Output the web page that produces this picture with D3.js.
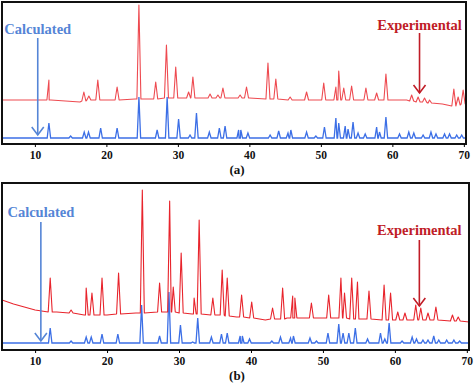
<!DOCTYPE html>
<html>
<head>
<meta charset="utf-8">
<script src="https://cdn.jsdelivr.net/npm/d3@7/dist/d3.min.js"></script>
<style>
  body { margin: 0; background: #fff; }
  svg text { font-family: "Liberation Serif", "Times New Roman", serif; font-weight: bold; }
</style>
</head>
<body>
<svg id="chart" width="474" height="383"></svg>
<script>
'use strict'

// two-theta ticks shared by both panels
const tickValues = [10, 20, 30, 40, 50, 60, 70]

// panel (a): experimental background [2theta, intensity]
const expBgA = [[5.4, 44], [8, 44], [12, 44], [16.3, 42], [16.6, 44], [20, 44], [24, 45], [30, 46],
  [40, 46], [46, 44], [50, 44], [55, 44], [62, 44], [65, 41], [67, 40], [68.3, 38], [70.3, 40]]
// panel (a): experimental peaks [2theta, base, top]
const expPeaksA = [[11.96, 44, 64], [16.85, 43, 52], [17.55, 44, 48], [18.8, 44, 64], [21.5, 44, 57],
  [24.55, 45, 139], [26.9, 45, 62], [28.4, 46, 99], [29.7, 46, 77], [31.5, 46, 52], [32.1, 46, 67],
  [34.5, 46, 50], [35.6, 46, 49], [36.3, 46, 56], [38.7, 46, 49], [39.6, 46, 57], [42.6, 45, 81],
  [43.7, 45, 65], [45.7, 44, 47], [48.0, 44, 52], [50.4, 44, 61], [52.1, 44, 57], [52.5, 44, 73],
  [53.2, 44, 56], [54.3, 44, 58], [56.3, 44, 56], [57.8, 44, 51], [59.1, 44, 70], [62.7, 43, 49],
  [63.6, 42, 47], [64.5, 42, 46], [65.2, 41, 44], [68.6, 38, 55], [69.2, 39, 47], [69.9, 40, 54]]
// panel (a): calculated baseline and peaks [2theta, top]
const calcBaseA = 6
const calcPeaksA = [[11.96, 21], [15.0, 8], [16.9, 12], [17.5, 12], [19.2, 16], [21.5, 16], [24.55, 47],
  [27.1, 14], [28.5, 47], [30.1, 25], [31.7, 9], [32.6, 31], [34.4, 12], [35.8, 16], [36.6, 18],
  [38.5, 14], [38.8, 14], [39.8, 11], [42.9, 9], [44.1, 13], [45.4, 11], [45.8, 14], [48.0, 12],
  [49.3, 8], [50.5, 17], [52.1, 26], [52.5, 21], [53.4, 18], [53.8, 15], [54.5, 22], [55.2, 11],
  [56.2, 10], [57.8, 17], [58.2, 12], [59.1, 27], [61.0, 10], [62.3, 12], [63.0, 11], [64.3, 9],
  [65.4, 12], [66.1, 10], [67.3, 10], [68.0, 10], [69.0, 9], [69.7, 9]]

// panel (b)
const expBgB = [[5.4, 50], [7, 46], [10, 40], [13, 38], [17, 35], [20, 35], [24, 37], [27, 38],
  [32, 36], [38, 33], [42, 30], [45, 32], [50, 32], [55, 31], [60, 30], [65, 30], [70.3, 28]]
const expPeaksB = [[12.1, 38, 72], [15.0, 37, 40], [17.1, 35, 62], [17.9, 35, 57], [19.3, 35, 72],
  [21.6, 36, 77], [24.9, 37, 160], [27.3, 38, 67], [28.7, 38, 149], [29.2, 38, 63], [30.3, 37, 97],
  [32.1, 36, 52], [32.8, 36, 130], [34.7, 35, 52], [36.0, 35, 80], [36.7, 34, 72], [38.7, 33, 55],
  [40.1, 32, 48], [43.0, 31, 42], [44.4, 31, 62], [45.8, 32, 54], [46.1, 32, 52], [48.4, 32, 47],
  [50.8, 32, 55], [52.5, 32, 72], [53.0, 32, 57], [54.0, 31, 72], [54.8, 31, 68], [56.4, 31, 59],
  [58.5, 30, 65], [59.4, 30, 57], [60.4, 30, 38], [61.4, 30, 37], [62.9, 30, 45], [63.6, 30, 42],
  [64.6, 30, 37], [65.7, 30, 43], [68.0, 29, 35], [68.8, 29, 33]]
const calcBaseB = 7
const calcPeaksB = [[12.1, 22], [15.0, 9], [17.1, 13], [17.8, 13], [19.3, 16], [21.5, 16], [24.8, 45],
  [27.3, 14], [28.6, 58], [30.2, 25], [31.9, 8], [32.6, 32], [34.5, 13], [35.9, 16], [36.7, 17],
  [38.5, 14], [38.8, 14], [39.8, 11], [42.9, 9], [44.1, 13], [45.5, 12], [45.9, 14], [48.2, 12],
  [49.1, 9], [50.7, 17], [52.2, 26], [52.8, 17], [53.6, 17], [54.5, 22], [56.2, 11], [58.0, 17],
  [58.6, 11], [59.2, 27], [61.0, 9], [62.4, 13], [63.0, 11], [63.9, 10], [64.6, 10], [65.4, 14],
  [66.1, 10], [67.2, 10], [68.2, 10], [69.0, 9]]

const panels = [
  { id: 'a', left: 2, right: 466, top: 2, bottom: 144, yMax: 142, red: '#ee4a50',
    expBg: expBgA, expPeaks: expPeaksA, calcBase: calcBaseA, calcPeaks: calcPeaksA,
    calcArrow: { x: 10.4, y0: 106, y1: 9, ty: 110 }, expArrow: { x: 63.8, y0: 111, y1: 51, ty: 114 } },
  { id: 'b', left: 2, right: 469, top: 183, bottom: 350, yMax: 167, red: '#e8242c',
    expBg: expBgB, expPeaks: expPeaksB, calcBase: calcBaseB, calcPeaks: calcPeaksB,
    calcArrow: { x: 10.8, y0: 128, y1: 9, ty: 133 }, expArrow: { x: 63.4, y0: 110, y1: 44, ty: 115 } }
]

const BLUE = '#3c6fe6'
const svg = d3.select('#chart')

const expPoints = (bg, peaks) => {
  const pts = bg.map(d => [d[0], d[1]])
  peaks.forEach(p => {
    pts.push([p[0] - 0.28, p[1]], [p[0], p[2]], [p[0] + 0.28, p[1]])
  })
  return pts.sort((a, b) => a[0] - b[0])
}
const calcPoints = (base, peaks) => {
  const pts = [[5.4, base], [70.3, base]]
  peaks.forEach(p => {
    pts.push([p[0] - 0.24, base], [p[0], p[1]], [p[0] + 0.24, base])
  })
  return pts.sort((a, b) => a[0] - b[0])
}

panels.forEach(p => {
  const x = d3.scaleLinear().domain([5.4, 70.3]).range([p.left, p.right])
  const y = d3.scaleLinear().domain([0, p.yMax]).range([p.bottom, p.top])
  const g = svg.append('g').attr('class', `panel-${p.id}`)
  const line = d3.line().x(d => x(d[0])).y(d => y(d[1]))

  g.append('clipPath').attr('id', `clip-${p.id}`)
    .append('rect').attr('x', p.left).attr('y', p.top)
    .attr('width', p.right - p.left).attr('height', p.bottom - p.top)

  const plot = g.append('g').attr('clip-path', `url(#clip-${p.id})`)
  plot.append('path').datum(calcPoints(p.calcBase, p.calcPeaks))
    .attr('d', line).attr('fill', 'none').attr('stroke', BLUE).attr('stroke-width', 1.3)
  plot.append('path').datum(expPoints(p.expBg, p.expPeaks))
    .attr('d', line).attr('fill', 'none').attr('stroke', p.red).attr('stroke-width', 1.1)
    .attr('stroke-linejoin', 'round')

  // frame
  g.append('rect').attr('x', p.left).attr('y', p.top)
    .attr('width', p.right - p.left).attr('height', p.bottom - p.top)
    .attr('fill', 'none').attr('stroke', '#111').attr('stroke-width', 2)

  const axis = g.append('g').attr('transform', `translate(0,${p.bottom})`)
    .call(d3.axisBottom(x).tickValues(tickValues).tickSize(3).tickPadding(4))
  axis.select('.domain').remove()
  axis.selectAll('text').attr('font-size', 11.5).attr('fill', '#111')
    .style('font-family', '"Liberation Serif", serif').style('font-weight', 'bold')

  // annotations
  const arrow = (a, color, label) => {
    const ax = x(a.x)
    g.append('line').attr('x1', ax).attr('x2', ax).attr('y1', y(a.y0)).attr('y2', y(a.y1))
      .attr('stroke', color).attr('stroke-width', 1.6)
    g.append('path')
      .attr('d', `M${ax - 6},${y(a.y1) - 8}L${ax},${y(a.y1)}L${ax + 6},${y(a.y1) - 8}`)
      .attr('fill', 'none').attr('stroke', color).attr('stroke-width', 1.6)
    g.append('text').attr('x', ax).attr('y', y(a.ty)).attr('text-anchor', 'middle')
      .attr('font-size', 14.5).attr('fill', color).text(label)
  }
  arrow(p.calcArrow, '#5585d6', 'Calculated')
  arrow(p.expArrow, '#c01c26', 'Experimental')

  g.append('text').attr('x', 237).attr('y', p.bottom + 30).attr('text-anchor', 'middle')
    .attr('font-size', 13).attr('fill', '#111').text(`(${p.id})`)
})
</script>
</body>
</html>
